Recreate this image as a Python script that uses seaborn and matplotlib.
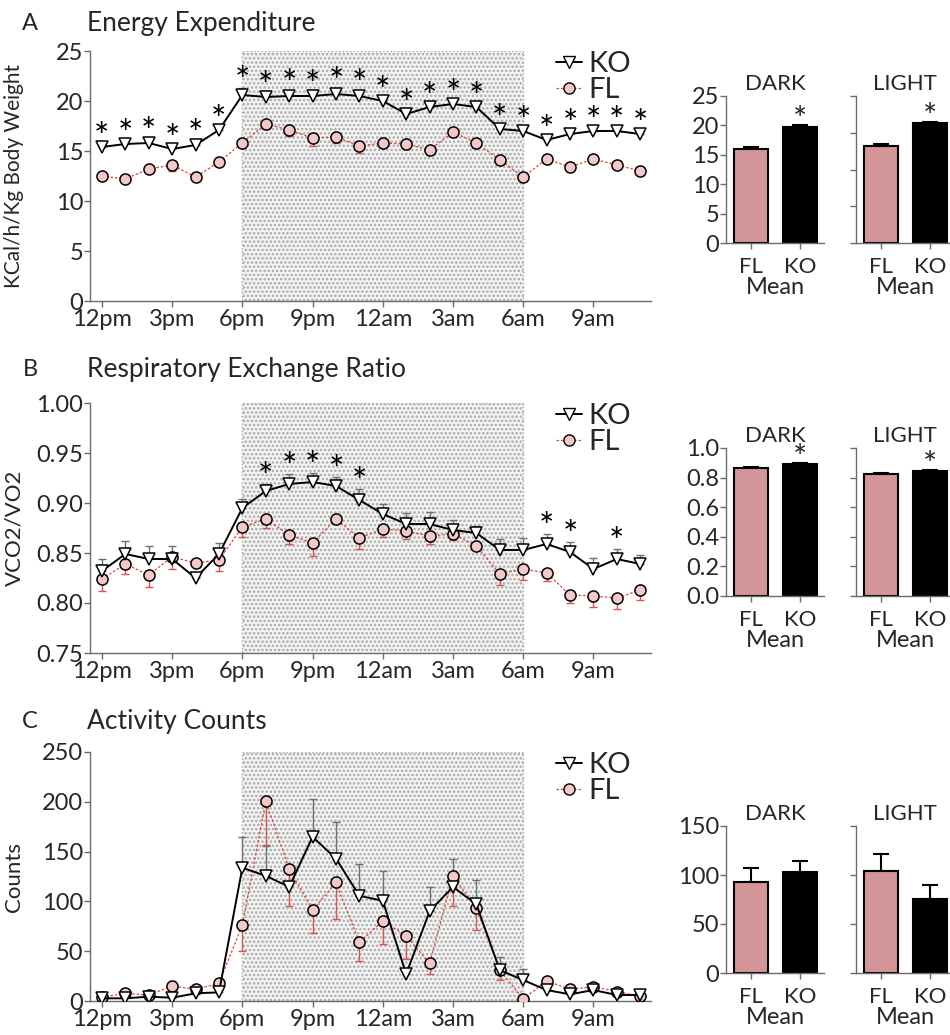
import numpy as np
import pandas as pd
import matplotlib
matplotlib.use("Agg")
import matplotlib.pyplot as plt
import seaborn as sns
from matplotlib.lines import Line2D

# ---- data ----
hours = list(range(24))
hour_ticks = [0, 3, 6, 9, 12, 15, 18, 21]
hour_labels = ["12pm", "3pm", "6pm", "9pm", "12am", "3am", "6am", "9am"]

ko_ee = [15.4, 15.7, 15.8, 15.2, 15.6, 17.1, 20.6, 20.4, 20.5, 20.5, 20.7, 20.5,
         20.0, 18.7, 19.4, 19.7, 19.4, 17.2, 17.0, 16.1, 16.7, 17.0, 17.0, 16.7]
ko_ee_err = [0.3, 0.3, 0.4, 0.3, 0.4, 0.3, 0.7, 0.4, 0.5, 0.4, 0.5, 0.5,
             0.3, 0.3, 0.3, 0.3, 0.3, 0.3, 0.3, 0.3, 0.3, 0.3, 0.3, 0.3]
fl_ee = [12.5, 12.2, 13.2, 13.6, 12.4, 13.9, 15.8, 17.7, 17.1, 16.3, 16.4, 15.5,
         15.8, 15.7, 15.1, 16.9, 15.8, 14.1, 12.4, 14.2, 13.4, 14.2, 13.6, 13.0]
fl_ee_err = [0.4, 0.2, 0.3, 0.6, 0.3, 0.3, 0.5, 0.5, 0.6, 0.8, 0.6, 0.7,
             0.4, 0.5, 0.5, 0.4, 0.5, 0.4, 0.3, 0.4, 0.3, 0.3, 0.3, 0.3]
ee_sig = list(range(24))

ko_rer = [0.832, 0.849, 0.844, 0.844, 0.825, 0.849, 0.895, 0.912, 0.919, 0.921, 0.917, 0.903,
          0.889, 0.879, 0.879, 0.873, 0.870, 0.853, 0.853, 0.859, 0.851, 0.834, 0.844, 0.839]
ko_rer_err = [0.012, 0.013, 0.013, 0.013, 0.003, 0.011, 0.009, 0.007, 0.010, 0.009, 0.009, 0.011,
              0.010, 0.011, 0.012, 0.010, 0.007, 0.011, 0.012, 0.010, 0.010, 0.011, 0.010, 0.009]
fl_rer = [0.824, 0.839, 0.828, 0.846, 0.840, 0.843, 0.876, 0.884, 0.868, 0.860, 0.884, 0.865,
          0.874, 0.872, 0.867, 0.869, 0.857, 0.829, 0.834, 0.830, 0.808, 0.807, 0.805, 0.813]
fl_rer_err = [0.012, 0.010, 0.012, 0.012, 0.003, 0.011, 0.010, 0.009, 0.009, 0.013, 0.003, 0.011,
              0.008, 0.008, 0.008, 0.006, 0.003, 0.011, 0.011, 0.008, 0.008, 0.011, 0.011, 0.010]
rer_sig = [7, 8, 9, 10, 11, 19, 20, 22]

ko_act = [2.7, 2.7, 4.3, 3.3, 7.7, 8.7, 133.7, 125.7, 114.6, 164.8, 143.0, 105.6,
          100.6, 27.0, 90.2, 114.6, 97.0, 31.0, 21.0, 11.0, 6.7, 11.0, 6.0, 6.0]
ko_act_err = [1, 1, 2, 2, 2, 2, 31, 30, 22, 38, 37, 32, 30, 5, 24, 28, 24, 13, 11, 3, 3, 3, 2, 2]
fl_act = [3.7, 7.7, 6.0, 15.0, 11.7, 17.7, 76.2, 200.5, 133.0, 91.2, 119.0, 58.8,
          80.5, 65.5, 37.8, 125.7, 92.9, 31.0, 2.0, 20.4, 11.7, 14.4, 9.4, 5.0]
fl_act_err = [2, 2, 2, 4, 5, 5, 26, 44, 38, 23, 37, 19, 23, 23, 11, 30, 22, 10, 0, 2, 4, 4, 2, 2]
act_sig = []

groups = ["FL", "KO"]
ee_dark = [16.0, 19.8]
ee_dark_err = [0.3, 0.3]
ee_light = [16.5, 20.4]
ee_light_err = [0.4, 0.2]
rer_dark = [0.867, 0.894]
rer_dark_err = [0.005, 0.005]
rer_light = [0.826, 0.846]
rer_light_err = [0.003, 0.003]
act_dark = [93, 103]
act_dark_err = [14, 11]
act_light = [104, 76]
act_light_err = [17, 14]

KO_COLOR = "black"
FL_LINE = "#e0443c"
FL_FACE = "#f2c8c8"
FL_BAR = "#dc8c90"
SPINE = "#6b6b6b"

sns.set_style("ticks")
plt.rcParams["font.family"] = ["Lato", "DejaVu Sans"]
plt.rcParams["hatch.linewidth"] = 1.2
plt.rcParams["hatch.color"] = "#b5b5b5"

fig = plt.figure(figsize=(9.5, 10.35), dpi=100)
W, H = 950, 1035
LINE_L, LINE_R = 90, 651


def px_axes(left, top, right, bottom):
    return fig.add_axes([left / W, 1 - bottom / H, (right - left) / W, (bottom - top) / H])


def style_spines(ax):
    sns.despine(ax=ax)
    for s in ["left", "bottom"]:
        ax.spines[s].set_color(SPINE)
        ax.spines[s].set_linewidth(1.0)
    ax.tick_params(color=SPINE, width=1.0, length=4, direction="out")


def line_panel(top, bottom, title_y, letter, title, ylabel, ko, ko_err, fl, fl_err, sig,
               ylim, yticks, yfmt, ylabel_size):
    ax = px_axes(LINE_L, top, LINE_R, bottom)
    ax.axvspan(6, 18, facecolor="#f3f3f3", edgecolor="#a8a8a8", hatch="....",
               linewidth=1.0, linestyle=":", zorder=0)
    zeros = np.zeros(len(hours))
    ax.errorbar(hours, ko, yerr=[zeros, ko_err], fmt="none", ecolor="#707070",
                elinewidth=1.0, capsize=3, capthick=1.0, zorder=2)
    ax.errorbar(hours, fl, yerr=[fl_err, zeros], fmt="none", ecolor="#d9534f",
                elinewidth=1.0, capsize=3, capthick=1.0, zorder=2)
    sns.lineplot(x=hours, y=fl, ax=ax, color=FL_LINE, linewidth=0.9, linestyle=(0, (2, 1.5)),
                 marker="o", markersize=8, markerfacecolor=FL_FACE,
                 markeredgecolor="black", markeredgewidth=1.1, zorder=3)
    sns.lineplot(x=hours, y=ko, ax=ax, color=KO_COLOR, linewidth=1.4,
                 marker="v", markersize=8, markerfacecolor="white",
                 markeredgecolor="black", markeredgewidth=1.1, zorder=4)
    for h in sig:
        ax.annotate("*", (h, ko[h] + ko_err[h]), xytext=(0, 4),
                    textcoords="offset points", ha="center", va="center",
                    fontsize=26, color="black")
    ax.set_xlim(-0.51, 23.46)
    ax.set_ylim(*ylim)
    ax.set_xticks(hour_ticks)
    ax.set_xticklabels(hour_labels, fontsize=17)
    ax.set_yticks(yticks)
    ax.set_yticklabels([yfmt.format(v) for v in yticks], fontsize=17)
    ax.set_xlabel("")
    ax.set_ylabel(ylabel, fontsize=ylabel_size)
    ax.yaxis.set_label_coords((24 - LINE_L) / (LINE_R - LINE_L), 0.5)
    style_spines(ax)
    ax.tick_params(axis="x", pad=2)
    ax.tick_params(axis="y", pad=1)
    handles = [
        Line2D([], [], color=KO_COLOR, lw=1.4, marker="v", ms=8, mfc="white", mec="black"),
        Line2D([], [], color=FL_LINE, lw=0.9, ls=(0, (2, 1.5)), marker="o", ms=8,
               mfc=FL_FACE, mec="black"),
    ]
    ax.legend(handles, ["KO", "FL"], loc="upper right", bbox_to_anchor=(0.985, 1.045),
              frameon=False, fontsize=21, handlelength=0.9, handletextpad=0.2,
              labelspacing=0.0, borderaxespad=0)
    fig.text(30 / W, 1 - title_y / H, letter, fontsize=17, va="center", ha="center")
    fig.text(87 / W, 1 - title_y / H, title, fontsize=19, va="center", ha="left")
    return ax


def bar_panel(left, top, bottom, title, vals, errs, ylim, yticks, yfmt, show_labels, sig):
    ax = px_axes(left, top, left + 98, bottom)
    df = pd.DataFrame({"group": groups, "value": vals})
    sns.barplot(data=df, x="group", y="value", hue="group", palette=[FL_BAR, KO_COLOR],
                edgecolor="black", linewidth=1.5, width=0.68, legend=False, ax=ax, zorder=2)
    ax.errorbar([0, 1], vals, yerr=[[0, 0], errs], fmt="none", ecolor="black",
                elinewidth=1.5, capsize=6, capthick=1.5, zorder=1)
    for i in sig:
        ax.annotate("*", (i, vals[i] + errs[i]), xytext=(0, 3), textcoords="offset points",
                    ha="center", va="center", fontsize=24)
    ax.set_xlim(-0.51, 1.49)
    ax.set_ylim(*ylim)
    ax.set_yticks(yticks)
    if show_labels:
        ax.set_yticklabels([yfmt.format(v) for v in yticks], fontsize=17)
    else:
        ax.set_yticklabels([])
    ax.set_xticks([0, 1])
    ax.set_xticklabels(groups, fontsize=16)
    style_spines(ax)
    ax.tick_params(axis="x", pad=6)
    ax.tick_params(axis="y", pad=1)
    ax.set_xlabel("Mean", fontsize=17, labelpad=0)
    ax.set_ylabel("")
    ax.set_title(title, fontsize=16, pad=4)
    return ax


# A: energy expenditure
line_panel(51, 301, 24, "A", "Energy Expenditure", "KCal/h/Kg Body Weight",
           ko_ee, ko_ee_err, fl_ee, fl_ee_err, ee_sig, (0, 25), [0, 5, 10, 15, 20, 25],
           "{:.0f}", 15)
bar_panel(726, 96, 243, "DARK", ee_dark, ee_dark_err, (0, 25), [0, 5, 10, 15, 20, 25],
          "{:.0f}", True, [1])
bar_panel(856, 96, 243, "LIGHT", ee_light, ee_light_err, (0, 25), np.linspace(0, 25, 5),
          "{:.0f}", False, [1])

# B: respiratory exchange ratio
line_panel(403, 653, 370, "B", "Respiratory Exchange Ratio", "VCO2/VO2",
           ko_rer, ko_rer_err, fl_rer, fl_rer_err, rer_sig, (0.75, 1.0),
           [0.75, 0.80, 0.85, 0.90, 0.95, 1.00], "{:.2f}", 16)
bar_panel(726, 448, 596, "DARK", rer_dark, rer_dark_err, (0, 1.0),
          [0, 0.2, 0.4, 0.6, 0.8, 1.0], "{:.1f}", True, [1])
bar_panel(856, 448, 596, "LIGHT", rer_light, rer_light_err, (0, 1.0),
          [0, 0.2, 0.4, 0.6, 0.8, 1.0], "{:.1f}", False, [1])

# C: activity counts
line_panel(752, 1001, 722, "C", "Activity Counts", "Counts",
           ko_act, ko_act_err, fl_act, fl_act_err, act_sig, (0, 250),
           [0, 50, 100, 150, 200, 250], "{:.0f}", 16)
bar_panel(726, 826, 973, "DARK", act_dark, act_dark_err, (0, 150), [0, 50, 100, 150],
          "{:.0f}", True, [])
bar_panel(856, 826, 973, "LIGHT", act_light, act_light_err, (0, 150), [0, 50, 100, 150],
          "{:.0f}", False, [])

fig.savefig("out.png", dpi=100)
